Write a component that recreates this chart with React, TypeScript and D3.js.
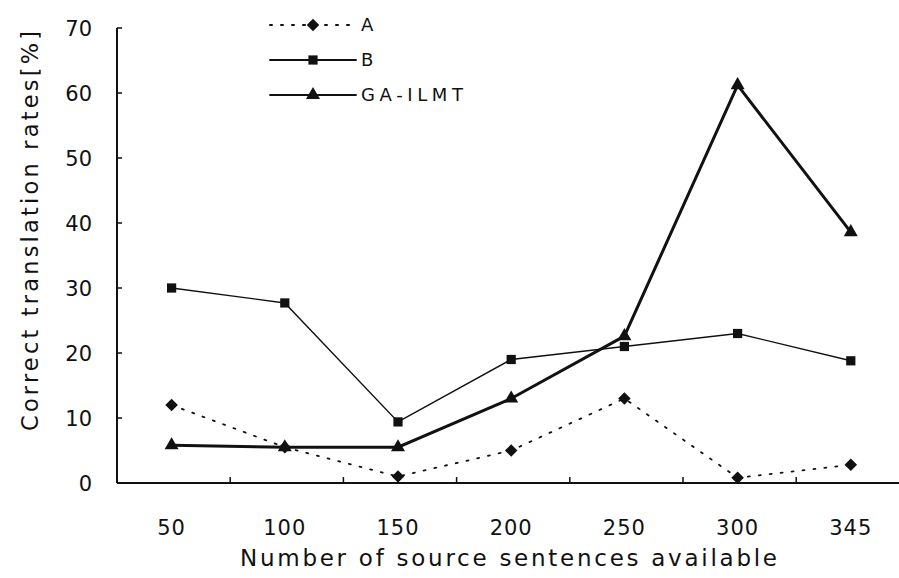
import React from "react"
import * as d3 from "d3"

const categories = ["50", "100", "150", "200", "250", "300", "345"]
const seriesA = [12, 5.5, 1, 5, 13, 0.8, 2.8]
const seriesB = [30, 27.7, 9.4, 19, 21, 23, 18.8]
const seriesGA = [5.8, 5.5, 5.5, 13, 22.6, 61.2, 38.6]
const yTicks = [0, 10, 20, 30, 40, 50, 60, 70]

const width = 899
const height = 578
const margin = { top: 28, right: 0, bottom: 95, left: 117 }
const font = "'DejaVu Sans', Verdana, sans-serif"

const series = [
  { name: "A", values: seriesA, symbol: d3.symbolDiamond2, dash: "2 9", stroke: 1.8, size: 100, legendW: 14 },
  { name: "B", values: seriesB, symbol: d3.symbolSquare, dash: "none", stroke: 1.4, size: 85, legendW: 14 },
  { name: "GA-ILMT", values: seriesGA, symbol: d3.symbolTriangle, dash: "none", stroke: 3, size: 85, legendW: 102 },
]

const App = () => {
  const x = d3
    .scaleBand<string>()
    .domain(categories)
    .range([margin.left, margin.left + 113.2 * 7])
  const y = d3
    .scaleLinear()
    .domain([0, 70])
    .range([height - margin.bottom, margin.top])

  const cx = (c: string) => (x(c) as number) + x.bandwidth() / 2 - 2
  const line = d3
    .line<number>()
    .x((_, i) => cx(categories[i]))
    .y((d) => y(d))

  return (
    <svg width={width} height={height} style={{ position: "absolute", left: 0, top: 0, background: "#fff" }}>
      {/* y axis */}
      <line x1={margin.left} x2={margin.left} y1={y(70)} y2={y(0)} stroke="#111" strokeWidth={2} />
      {yTicks.map((t) => (
        <g key={t} transform={`translate(0, ${y(t)})`}>
          <line x1={margin.left} x2={margin.left + 5} stroke="#111" strokeWidth={1.5} />
          <text x={92} dy="0.36em" textAnchor="end" fontFamily={font} fontSize={21} fill="#111">
            {t}
          </text>
        </g>
      ))}
      {/* x axis */}
      <line x1={margin.left} x2={width} y1={y(0)} y2={y(0)} stroke="#111" strokeWidth={2} />
      {categories.slice(1).map((c) => (
        <line key={c} x1={x(c)} x2={x(c)} y1={y(0)} y2={y(0) - 6} stroke="#111" strokeWidth={1.5} />
      ))}
      {categories.map((c) => (
        <text key={c} x={cx(c)} y={535} textAnchor="middle" fontFamily={font} fontSize={21} fill="#111" letterSpacing={1}>
          {c}
        </text>
      ))}
      <text
        x={240}
        y={566}
        textLength={537}
        lengthAdjust="spacing"
        fontFamily={font}
        fontSize={23}
        fill="#111"
      >
        Number of source sentences available
      </text>
      <text
        transform={`translate(38, 431) rotate(-90)`}
        textLength={400}
        lengthAdjust="spacing"
        fontFamily={font}
        fontSize={22.5}
        fill="#111"
      >
        Correct translation rates[%]
      </text>

      {/* series */}
      {series.map((s) => (
        <g key={s.name}>
          <path
            d={line(s.values) ?? ""}
            fill="none"
            stroke="#111"
            strokeWidth={s.stroke}
            strokeDasharray={s.dash}
            strokeLinecap="round"
          />
          {s.values.map((v, i) => (
            <path
              key={i}
              transform={`translate(${cx(categories[i])}, ${y(v)})`}
              d={d3.symbol().type(s.symbol).size(s.size)() ?? ""}
              fill="#111"
            />
          ))}
        </g>
      ))}

      {/* legend */}
      {series.map((s, i) => {
        const ly = 25 + i * 35
        return (
          <g key={s.name} transform={`translate(0, ${ly})`}>
            <line
              x1={270}
              x2={356}
              stroke="#111"
              strokeWidth={s.name === "A" ? 2 : 1.8}
              strokeDasharray={s.dash}
              strokeLinecap="round"
            />
            <path
              transform="translate(313, 0)"
              d={d3.symbol().type(s.symbol).size(s.size)() ?? ""}
              fill="#111"
            />
            <text
              x={361}
              dy="0.36em"
              fontFamily={font}
              fontSize={18}
              fill="#111"
              textLength={s.legendW}
              lengthAdjust="spacing"
            >
              {s.name}
            </text>
          </g>
        )
      })}
    </svg>
  )
}

export default App
